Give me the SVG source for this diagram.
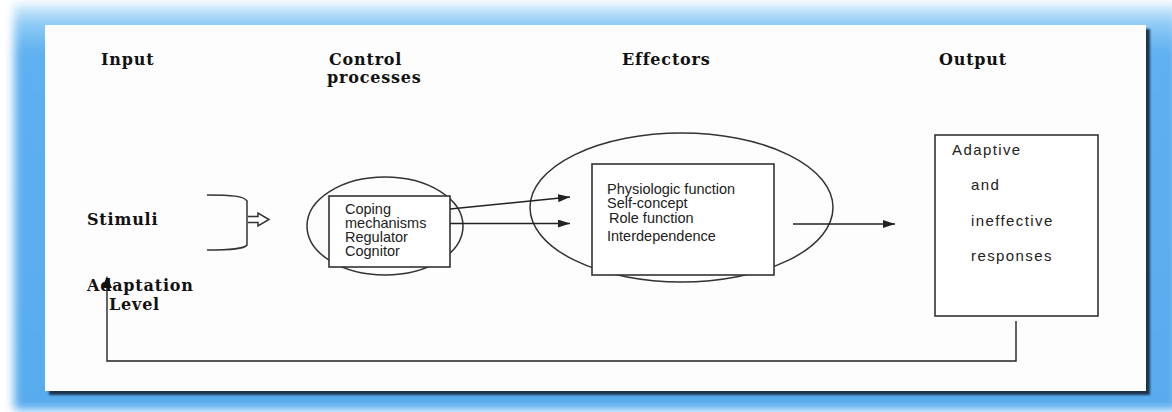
<svg xmlns="http://www.w3.org/2000/svg" width="1172" height="412" viewBox="0 0 1172 412">
<defs>
<linearGradient id="blue" x1="0" y1="0" x2="0" y2="1">
<stop offset="0" stop-color="#d8eefc"/>
<stop offset="0.05" stop-color="#8ccaf6"/>
<stop offset="0.12" stop-color="#5eb0f0"/>
<stop offset="1" stop-color="#58acee"/>
</linearGradient>
<filter id="blur6" x="-5%" y="-10%" width="110%" height="120%"><feGaussianBlur stdDeviation="5"/></filter>
<filter id="blur1" x="-5%" y="-5%" width="110%" height="110%"><feGaussianBlur stdDeviation="1.2"/></filter>
<marker id="arr" viewBox="0 0 12 8" refX="12" refY="4" markerWidth="12" markerHeight="8" markerUnits="userSpaceOnUse" orient="auto">
<path d="M0,0 L12,4 L0,8 Z" fill="#222"/>
</marker>
<style>
.hd{font-family:"DejaVu Serif","Liberation Serif",serif;font-weight:bold;font-size:16px;fill:#111;letter-spacing:0.8px}
.tx{font-family:"Liberation Sans",Arial,sans-serif;font-size:14.5px;fill:#222}
.out{font-family:"Liberation Sans",Arial,sans-serif;font-size:15px;fill:#222;letter-spacing:1.4px}
.shape{fill:none;stroke:#333;stroke-width:1.5}
.box{fill:#fff;stroke:#333;stroke-width:1.6}
.ln{fill:none;stroke:#222;stroke-width:1.4}
</style>
</defs>
<rect x="0" y="0" width="1172" height="412" fill="#ffffff"/>
<rect x="14" y="4" width="1164" height="406" fill="url(#blue)" filter="url(#blur6)"/>
<rect x="49" y="29" width="1101" height="366" fill="#1c3550" filter="url(#blur1)"/>
<rect x="45" y="25" width="1101" height="366" fill="#fdfdfd"/>

<g id="labels">
<text class="hd" x="101" y="65">Input</text>
<text class="hd" x="329" y="65">Control</text>
<text class="hd" x="327" y="83">processes</text>
<text class="hd" x="622" y="65">Effectors</text>
<text class="hd" x="939" y="65">Output</text>
</g>

<g id="stimuli">
<text class="hd" x="87" y="225">Stimuli</text>
<path class="shape" d="M207,195 C232,195 244,196 247,201 L247,245 C244,249 232,250 207,250"/>
<path class="shape" d="M248,216.5 L258,216.5 L258,213 L269,219.5 L258,226 L258,222.5 L248,222.5"/>
</g>

<g id="adaptation">
<text class="hd" x="87" y="291">Adaptation</text>
<text class="hd" x="109" y="310">Level</text>
</g>

<g id="control">
<ellipse class="shape" cx="385" cy="226" rx="78" ry="49"/>
<rect class="box" x="329" y="196" width="121" height="71"/>
<text class="tx" x="345" y="214">Coping</text>
<text class="tx" x="345" y="228">mechanisms</text>
<text class="tx" x="345" y="242">Regulator</text>
<text class="tx" x="345" y="256">Cognitor</text>
</g>

<g id="effectors">
<ellipse class="shape" cx="681.5" cy="207.5" rx="151.5" ry="74.5"/>
<rect class="box" x="592" y="164" width="182" height="111"/>
<text class="tx" x="607" y="194">Physiologic function</text>
<text class="tx" x="607" y="208">Self-concept</text>
<text class="tx" x="609" y="223">Role function</text>
<text class="tx" x="607" y="241">Interdependence</text>
</g>

<g id="output">
<rect class="box" x="935" y="135" width="163" height="181"/>
<text class="out" x="952" y="155">Adaptive</text>
<text class="out" x="971" y="190">and</text>
<text class="out" x="971" y="226">ineffective</text>
<text class="out" x="971" y="261">responses</text>
</g>

<g id="connectors">
<line class="ln" x1="450" y1="209" x2="570" y2="197" marker-end="url(#arr)"/>
<line class="ln" x1="450" y1="223.5" x2="570" y2="223.5" marker-end="url(#arr)"/>
<line class="ln" x1="793" y1="224" x2="895" y2="224" marker-end="url(#arr)"/>
<polyline class="ln" points="1016,321 1016,361 107,361 107,284"/>
<path d="M107,276 L102,288 L112,288 Z" fill="#111"/>
</g>
</svg>
